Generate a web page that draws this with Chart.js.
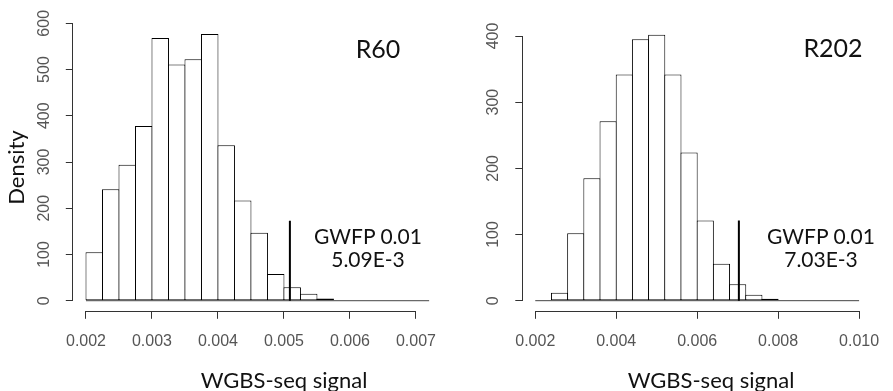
<!DOCTYPE html>
<html><head><meta charset="utf-8">
<script src="https://cdn.jsdelivr.net/npm/chart.js@4.4.1/dist/chart.umd.min.js"></script>
<style>
html,body{margin:0;padding:0;background:#fff;width:893px;height:391px;overflow:hidden;position:relative}
canvas{position:absolute;top:0}
#c1{left:0}
#c2{left:450px}
.lab{position:absolute;font-family:Lato,"Open Sans",sans-serif;color:#111;white-space:nowrap;transform:translate(-50%,-50%);line-height:1}
</style></head><body>
<canvas id="c1" width="450" height="391"></canvas>
<canvas id="c2" width="443" height="391"></canvas>
<div class="lab" style="left:378px;top:48px;font-size:25px">R60</div>
<div class="lab" style="left:368px;top:235px;font-size:21px">GWFP 0.01</div>
<div class="lab" style="left:368px;top:258px;font-size:21px">5.09E-3</div>
<div class="lab" style="left:833px;top:47px;font-size:25px">R202</div>
<div class="lab" style="left:821px;top:235px;font-size:21px">GWFP 0.01</div>
<div class="lab" style="left:821px;top:258px;font-size:21px">7.03E-3</div>
<div class="lab" style="left:284px;top:380px;font-size:22px">WGBS-seq signal</div>
<div class="lab" style="left:711px;top:380px;font-size:22px">WGBS-seq signal</div>
<script>
// ---- data ----
const r60Breaks = [0.00200,0.00225,0.00250,0.00275,0.00300,0.00325,0.00350,0.00375,0.00400,0.00425,0.00450,0.00475,0.00500,0.00525,0.00550,0.00575,0.00600,0.00625,0.00650,0.00675,0.00700,0.00725];
const r60Density = [105,241,294,378,568,511,522,577,336,217,147,58,29,15,5,0,0,0,0,0,0];
const r60Cutoff = 0.00509;
const r60CutoffHeight = 173;
const r60XTicks = [0.002,0.003,0.004,0.005,0.006,0.007];
const r60XLabels = ['0.002','0.003','0.004','0.005','0.006','0.007'];
const r60YTicks = [0,100,200,300,400,500,600];
const r60YLabels = ['0','100','200','300','400','500','600'];

const r202Breaks = [0.0020,0.0024,0.0028,0.0032,0.0036,0.0040,0.0044,0.0048,0.0052,0.0056,0.0060,0.0064,0.0068,0.0072,0.0076,0.0080,0.0084,0.0088,0.0092,0.0096,0.0100];
const r202Density = [0,12,102,185,271,342,395,402,342,224,121,56,25,9,3,0,0,0,0,0];
const r202Cutoff = 0.00703;
const r202CutoffHeight = 121;
const r202XTicks = [0.002,0.004,0.006,0.008,0.010];
const r202XLabels = ['0.002','0.004','0.006','0.008','0.010'];
const r202YTicks = [0,100,200,300,400];
const r202YLabels = ['0','100','200','300','400'];

// ---- rendering ----
Chart.defaults.font.family = '"Liberation Sans", Arial, sans-serif';
const align = p => Math.round(p - 0.5) + 0.5;

const rAxes = {
  id: 'rAxes',
  afterDraw(chart) {
    const {ctx, chartArea, scales: {x, y}} = chart;
    ctx.save();
    ctx.strokeStyle = '#333';
    ctx.lineWidth = 1;
    const xt = x.ticks, yt = y.ticks;
    const yy = align(chartArea.bottom);
    ctx.beginPath();
    ctx.moveTo(align(x.getPixelForValue(xt[0].value)) - 0.5, yy);
    ctx.lineTo(align(x.getPixelForValue(xt[xt.length - 1].value)) + 0.5, yy);
    ctx.stroke();
    const xx = align(chartArea.left);
    ctx.beginPath();
    ctx.moveTo(xx, align(y.getPixelForValue(yt[0].value)) + 0.5);
    ctx.lineTo(xx, align(y.getPixelForValue(yt[yt.length - 1].value)) - 0.5);
    ctx.stroke();
    ctx.restore();
  }
};

function makeHist(id, breaks, dens, cutoff, cutH, xTicks, xLabels, yTicks, yLabels, view) {
  const bars = dens.map((d, i) => ({x: (breaks[i] + breaks[i + 1]) / 2, y: d}));
  return new Chart(document.getElementById(id), {
    type: 'bar',
    data: {
      datasets: [
        {type: 'bar', data: bars, backgroundColor: '#fff', borderColor: '#000', borderWidth: 1,
         borderSkipped: false, barPercentage: 1.06, categoryPercentage: 1, inflateAmount: 0, order: 2},
        {type: 'line', data: [{x: breaks[0], y: 0}, {x: breaks[breaks.length - 1], y: 0}],
         borderColor: '#444', borderWidth: 1, pointRadius: 0, fill: false, order: 1},
        {type: 'line', data: [{x: cutoff, y: 0}, {x: cutoff, y: cutH}],
         borderColor: '#000', borderWidth: 2, pointRadius: 0, fill: false, order: 0}
      ]
    },
    options: {
      responsive: false, animation: false, devicePixelRatio: 1, events: [],
      layout: {padding: {left: 0, top: view.top, right: view.right, bottom: 0}},
      plugins: {legend: {display: false}, tooltip: {enabled: false}},
      scales: {
        x: {
          type: 'linear', min: view.xmin, max: view.xmax, offset: false,
          afterBuildTicks: s => { s.ticks = xTicks.map(v => ({value: v})); },
          afterFit: s => { s.height = view.xh; },
          grid: {offset: false, drawOnChartArea: false, drawTicks: true, tickLength: 7, color: '#333', lineWidth: 1},
          border: {display: false},
          ticks: {autoSkip: false, maxRotation: 0, minRotation: 0, padding: 13.6, color: '#555',
                  font: {size: 16}, callback: (v, i) => xLabels[i]}
        },
        y: {
          type: 'linear', min: view.ymin, max: view.ymax,
          afterBuildTicks: s => { s.ticks = yTicks.map(v => ({value: v})); },
          afterFit: s => { s.width = view.yw; },
          grid: {drawOnChartArea: false, drawTicks: true, tickLength: 7, color: '#333', lineWidth: 1},
          border: {display: false},
          title: view.ytitle ? {display: true, text: view.ytitle, color: '#111',
                  font: {family: 'Lato, "Open Sans", sans-serif', size: 22}, padding: {top: 4, bottom: 0}} : {display: false},
          ticks: {autoSkip: false, minRotation: 90, maxRotation: 90, crossAlign: 'center', padding: 8,
                  color: '#555', font: {size: 16}, callback: (v, i) => yLabels[i]}
        }
      }
    },
    plugins: [rAxes]
  });
}

makeHist('c1', r60Breaks, r60Density, r60Cutoff, r60CutoffHeight, r60XTicks, r60XLabels, r60YTicks, r60YLabels,
  {xmin: 0.0018, xmax: 0.0072, ymin: -24, ymax: 600, top: 23.3, right: 12.3, xh: 79.2, yw: 72.8, ytitle: 'Density'});
makeHist('c2', r202Breaks, r202Density, r202Cutoff, r202CutoffHeight, r202XTicks, r202XLabels, r202YTicks, r202YLabels,
  {xmin: 0.00168, xmax: 0.01032, ymin: -16.8, ymax: 419.2, top: 23.3, right: 7.4, xh: 79.2, yw: 72.3, ytitle: null});
</script>
</body></html>
